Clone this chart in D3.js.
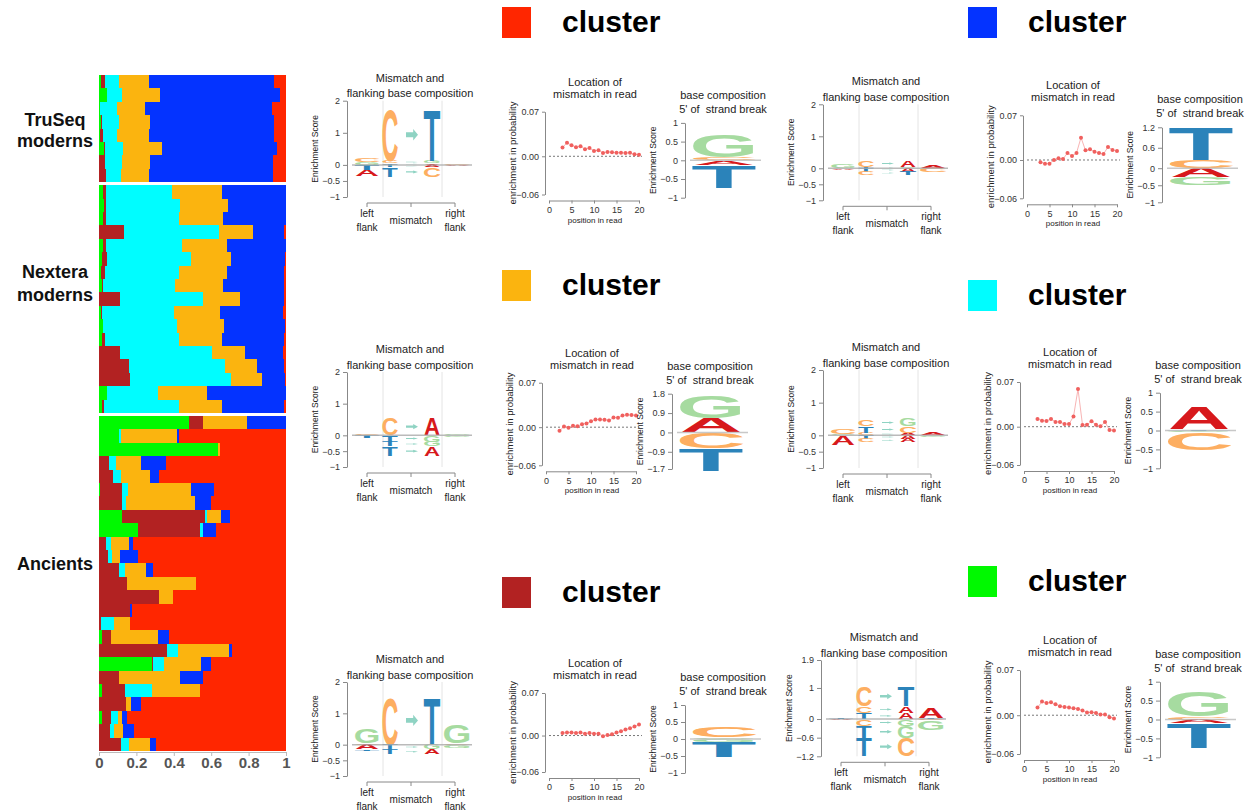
<!DOCTYPE html>
<html>
<head>
<meta charset="utf-8">
<script src="https://cdn.jsdelivr.net/npm/d3@7"></script>
<style>
body { margin: 0; background: #fff; }
text { font-family: "Liberation Sans", Arial, Helvetica, sans-serif; }
</style>
</head>
<body>
<script>
// ---------- data: admixture proportions (one value per individual) ----------
const groupNames = [['TruSeq', 'moderns'], ['Nextera', 'moderns'], ['Ancients']]
const groupSizes = [8, 17, 25]
const clusterOrder = ['green', 'brown', 'cyan', 'orange', 'blue', 'red']

const qGreen = [.010,.043,.004,.012,.007,.025,0,0,
  .021,.029,.021,0,.021,.018,.009,.014,0,.009,.023,.014,0,0,0,.041,.016,
  .479,.107,.639,0,0,.007,0,.123,.211,0,0,0,0,0,0,0,.018,0,.281,0,.018,0,.014,0,0]
const qBrown = [.020,0,0,.006,.014,.009,.034,.036,
  .018,.007,.017,.132,.018,.025,.023,.007,.111,.009,0,.020,.114,.159,.165,0,.009,
  .076,0,0,.052,.075,.115,.125,.446,.329,.036,.048,.107,.148,.322,.165,.013,.048,.363,.009,.109,.123,.143,.052,.057,.120]
const qCyan = [.077,.080,.093,.091,.076,.096,.089,.080,
  .353,.397,.390,.512,.403,.451,.397,.385,.444,.381,.394,.392,.491,.515,.543,.272,.404,
  0,.013,0,.037,.045,.034,.018,.007,.015,.027,.024,.033,0,0,0,.066,0,.061,.057,0,.140,0,.038,.022,.041]
const qOrange = [.160,.204,.150,.165,.168,.206,.151,.152,
  .265,.256,.236,.179,.245,.213,.254,.256,.198,.249,.252,.234,.177,.172,.165,.267,.229,
  .239,.299,.007,.136,.155,.336,.370,.077,0,.100,.042,.114,.369,.072,0,.089,.251,.272,.197,.324,.261,.027,.021,.052,.114]
const qBlue = [.670,.643,.680,.662,.669,.616,.656,.664,
  .343,.311,.336,.164,.313,.289,.308,.329,.234,.336,.327,.327,.202,.145,.120,.420,.333,
  .206,.007,0,.133,.047,.123,.086,.047,.068,.021,.097,.034,0,0,.014,0,.059,.014,.055,.122,0,.054,.027,.055,.029]
const qRed = [.063,.030,.073,.064,.066,.048,.070,.068,
  0,0,0,.013,0,.004,.009,.009,.013,.016,.004,.013,.016,.009,.007,0,.009,
  0,.574,.354,.642,.678,.385,.401,.300,.377,.816,.789,.712,.483,.606,.821,.832,.624,.290,.401,.445,.458,.776,.848,.814,.696]

// ---------- data: mismatch logos [from, to, height] stacked from zero ----------
const redMisLeft = [['G', .08], ['C', .12], ['T', -.15], ['A', -.2]]
const redMisPairs = [['C', 'A', .05], ['C', 'G', .08], ['C', 'T', 1.62], ['T', 'A', -.07], ['T', 'C', -.3]]
const redMisRight = [['C', .04], ['A', -.03]]

const blueMisLeft = [['G', .12], ['A', -.05]]
const blueMisPairs = [['T', 'G', .05], ['C', 'A', .2], ['T', 'A', -.1], ['C', 'T', -.1]]
const blueMisRight = [['A', .06], ['C', -.1]]

const orangeMisLeft = [['C', .03], ['T', -.08]]
const orangeMisPairs = [['C', 'A', .55], ['T', 'G', -.2], ['T', 'G', -.15], ['T', 'A', -.3]]
const orangeMisRight = [['G', .04], ['G', -.04]]

const cyanMisLeft = [['G', .05], ['C', .15], ['A', -.3]]
const cyanMisPairs = [['C', 'A', .08], ['T', 'C', .2], ['C', 'G', .22], ['T', 'A', -.1], ['C', 'A', -.1]]
const cyanMisRight = [['A', .08], ['G', -.05]]

const brownMisLeft = [['C', .05], ['G', .45], ['A', -.15], ['T', -.05]]
const brownMisPairs = [['C', 'T', 1.55], ['T', 'G', -.15], ['T', 'A', -.15]]
const brownMisRight = [['C', .05], ['G', .6], ['G', -.1]]

const greenMisLeft = [['T', .03], ['A', -.03]]
const greenMisPairs = [['T', 'A', .2], ['C', 'A', .22], ['C', 'T', .62], ['C', 'G', -.22], ['T', 'G', -.38], ['T', 'C', -.58]]
const greenMisRight = [['T', .03], ['A', .32], ['C', -.04], ['G', -.3]]

// ---------- data: location of mismatch in read ----------
const readPos = [3, 4, 5, 6, 7, 8, 9, 10, 11, 12, 13, 14, 15, 16, 17, 18, 19, 20]
const redLoc = [.0136,.0214,.0172,.0141,.0157,.011,.013,.0084,.0094,.0052,.0068,.0063,.0057,.0057,.0052,.0057,.0031,.0026]
const blueLoc = [-.0037,-.0057,-.0057,0,.0026,.0016,.011,.0063,.011,.035,.0151,.0167,.0131,.011,.0094,.0204,.0157,.0141]
const orangeLoc = [-.0058,.001,-.001,.0021,.0016,.0047,.0058,.0095,.0121,.0121,.0116,.0105,.0153,.0147,.0184,.0195,.019,.0184]
const cyanLoc = [.0122,.0095,.009,.0122,.0074,.0074,.0042,.0042,.0159,.0589,.0027,.0032,.0085,.0032,.0005,.0074,-.0053,-.0058]
const brownLoc = [.004,.005,.005,.004,.005,.003,.004,.003,.003,-.001,.001,.002,.005,.007,.01,.012,.015,.018]
const greenLoc = [.0118,.0211,.019,.0201,.017,.0139,.0129,.0118,.0108,.0098,.0072,.0041,.0046,.0036,.001,.001,-.0031,-.0051]

// ---------- data: base composition 5' of strand break ----------
const redBase = [['C', .08], ['G', .62], ['A', -.12], ['T', -.62]]
const blueBase = [['C', .24], ['T', .98], ['A', -.26], ['G', -.24]]
const orangeBase = [['A', .68], ['G', 1.06], ['C', -.72], ['T', -1.05]]
const cyanBase = [['T', .03], ['A', .6], ['G', -.04], ['C', -.47]]
const brownBase = [['G', .05], ['C', .3], ['G', -.08], ['T', -.45]]
const greenBase = [['C', .08], ['G', .65], ['A', -.1], ['T', -.66]]

// ---------- styles ----------
const clusterColor = { green: '#00f900', brown: '#b22222', cyan: '#00fdff', orange: '#fbb40f', blue: '#0433ff', red: '#ff2600' }
const letterColor = { A: '#d7191c', C: '#fdae61', G: '#a6dba0', T: '#2b83ba' }
const arrowColor = '#8fd3c3'
const inkW = { A: 72, C: 64, G: 70, T: 58 }

const svg = d3.select('body').append('svg').attr('width', 1247).attr('height', 811)

// ---------- structure plot ----------
const xq = d3.scaleLinear().domain([0, 1]).range([99, 286])
const yRow = d3.scaleLinear().domain([0, 50]).range([75, 745])
const qCols = [qGreen, qBrown, qCyan, qOrange, qBlue, qRed]
const rows = []
let start = 0
groupSizes.forEach((n, g) => {
	for (let i = 0; i < n; i++) rows.push({ idx: start + i, group: g })
	start += n
})
rows.forEach(r => {
	let cum = 0
	const y0 = yRow(r.idx) + r.group * 3
	const y1 = yRow(r.idx + 1) + r.group * 3
	clusterOrder.forEach((k, j) => {
		const v = qCols[j][r.idx]
		const x0 = cum
		cum += v
		if (v <= 0) return
		svg.append('rect')
			.attr('x', xq(x0))
			.attr('y', y0)
			.attr('width', j === 5 ? xq(1) - xq(x0) : xq(cum) - xq(x0))
			.attr('height', y1 - y0)
			.attr('fill', clusterColor[k])
			.attr('shape-rendering', 'crispEdges')
	})
})

const qAxis = svg.append('g')
	.attr('transform', 'translate(0,752)')
	.call(d3.axisBottom(xq).tickValues([0, .2, .4, .6, .8, 1]).tickFormat(d3.format('~g')).tickSize(4).tickSizeOuter(0))
qAxis.select('.domain').attr('stroke', '#bbb')
qAxis.selectAll('line').attr('stroke', '#bbb')
qAxis.selectAll('text').attr('font-size', 15).attr('font-weight', 'bold').attr('fill', '#555').attr('dy', '0.6em')

const groupLabelY = [[126, 147], [278, 301], [570]]
groupNames.forEach((lines, g) => {
	lines.forEach((s, k) => {
		svg.append('text').text(s)
			.attr('x', 55).attr('y', groupLabelY[g][k])
			.attr('text-anchor', 'middle')
			.attr('font-size', 18).attr('font-weight', 'bold').attr('fill', '#111')
	})
})

// ---------- helpers for logos ----------
function letter(g, ch, cx, w, yTop, yBot) {
	const h = yBot - yTop
	if (h < 0.3) return
	g.append('text').text(ch)
		.attr('font-size', 100).attr('font-weight', 'bold')
		.attr('text-anchor', 'middle')
		.attr('fill', letterColor[ch])
		.attr('transform', `translate(${cx},${yBot}) scale(${w / inkW[ch]},${h / 72})`)
}

function arrow(g, cx, cy, w, h) {
	const pts = [[-.5, -.22], [.1, -.22], [.1, -.5], [.5, 0], [.1, .5], [.1, .22], [-.5, .22]]
	g.append('polygon')
		.attr('points', pts.map(p => [cx + p[0] * w, cy + p[1] * h].join(',')).join(' '))
		.attr('fill', arrowColor)
}

function stack(list, fn) {
	let up = 0, down = 0
	list.forEach(d => {
		const v = d[d.length - 1]
		if (v >= 0) { fn(d, up, up + v); up += v }
		else { fn(d, down + v, down); down += v }
	})
}

function yAxisStyle(a) {
	a.select('.domain').attr('stroke', '#888')
	a.selectAll('line').attr('stroke', '#888')
	a.selectAll('text').attr('font-size', 9).attr('fill', '#333')
}

function drawMismatch(c, left, pairs, right) {
	const g = svg.append('g')
	const y = d3.scaleLinear().domain(c.dom).range([c.yB, c.yT])
	const ax = c.ax
	;[36, 95].forEach(o => g.append('line')
		.attr('x1', ax + o).attr('x2', ax + o).attr('y1', c.yT).attr('y2', c.yB)
		.attr('stroke', '#e4e4e4'))
	const a = g.append('g').attr('transform', `translate(${ax},0)`)
		.call(d3.axisLeft(y).tickValues(c.ticks).tickFormat(d3.format('~g')).tickSize(4).tickSizeOuter(0))
	yAxisStyle(a)

	const colX = [20, 43, 65, 85, 110].map(o => ax + o)
	stack(left, (d, lo, hi) => letter(g, d[0], colX[0], 24, y(hi), y(lo)))
	stack(right, (d, lo, hi) => letter(g, d[0], colX[4], 26, y(hi), y(lo)))
	stack(pairs, (d, lo, hi) => {
		letter(g, d[0], colX[1], 15, y(hi), y(lo))
		letter(g, d[1], colX[3], 16, y(hi), y(lo))
		const slot = hi - lo
		const ah = Math.min(slot * 0.3, 0.36)
		arrow(g, colX[2], y((hi + lo) / 2), 12, y(0) - y(ah))
	})
	g.append('line').attr('x1', ax + 5).attr('x2', ax + 125).attr('y1', y(0)).attr('y2', y(0))
		.attr('stroke', '#aaa').attr('stroke-width', 1.5).attr('opacity', 0.8)

	// bottom axis
	const xb = c.yB + 6
	g.append('line').attr('x1', ax + 20).attr('x2', ax + 108).attr('y1', xb).attr('y2', xb).attr('stroke', '#888')
	;[20, 64, 108].forEach(o => g.append('line').attr('x1', ax + o).attr('x2', ax + o).attr('y1', xb).attr('y2', xb + 4).attr('stroke', '#888'))
	const lab = (s, x, yy) => g.append('text').text(s).attr('x', x).attr('y', yy)
		.attr('text-anchor', 'middle').attr('font-size', 10).attr('fill', '#222')
	lab('left', ax + 20, c.yB + 20); lab('flank', ax + 20, c.yB + 34)
	lab('mismatch', ax + 64, c.yB + 27)
	lab('right', ax + 108, c.yB + 20); lab('flank', ax + 108, c.yB + 34)

	g.append('text').text('Mismatch and').attr('x', ax + 63).attr('y', c.yT - 19)
		.attr('text-anchor', 'middle').attr('font-size', 11).attr('fill', '#222')
	g.append('text').text('flanking base composition').attr('x', ax + 63).attr('y', c.yT - 3.5)
		.attr('text-anchor', 'middle').attr('font-size', 11).attr('fill', '#222')
	g.append('text').text('Enrichment Score')
		.attr('transform', `translate(${ax - 29},${(c.yT + c.yB) / 2}) rotate(-90)`)
		.attr('text-anchor', 'middle').attr('font-size', 8.5).attr('fill', '#222')
}

function drawLocation(c, vals) {
	const g = svg.append('g')
	const x = d3.scaleLinear().domain([0, 20]).range([c.ax + 4, c.ax + 94])
	const y = d3.scaleLinear().domain([-0.06, 0.07]).range([c.yB, c.yT])
	const a = g.append('g').attr('transform', `translate(${c.ax},0)`)
		.call(d3.axisLeft(y).tickValues([0.07, 0, -0.06]).tickFormat(d3.format('.2f')).tickSize(3).tickSizeOuter(0))
	yAxisStyle(a)
	const b = g.append('g').attr('transform', `translate(0,${c.yB + 6})`)
		.call(d3.axisBottom(x).tickValues([0, 5, 10, 15, 20]).tickSize(3).tickSizeOuter(0))
	yAxisStyle(b)
	g.append('line').attr('x1', x(0)).attr('x2', x(20) + 3).attr('y1', y(0)).attr('y2', y(0))
		.attr('stroke', '#555').attr('stroke-dasharray', '2,2').attr('stroke-width', 0.8)
	const pts = readPos.map((p, i) => [p, vals[i]])
	g.append('path').datum(pts)
		.attr('d', d3.line().x(d => x(d[0])).y(d => y(d[1])))
		.attr('fill', 'none').attr('stroke', '#f8b4b4').attr('stroke-width', 1)
	g.selectAll('circle').data(pts).enter().append('circle')
		.attr('cx', d => x(d[0])).attr('cy', d => y(d[1])).attr('r', 2)
		.attr('fill', '#f0605e')
	g.append('text').text('Location of').attr('x', c.ax + 50).attr('y', c.yT - 26)
		.attr('text-anchor', 'middle').attr('font-size', 11).attr('fill', '#222')
	g.append('text').text('mismatch in read').attr('x', c.ax + 50).attr('y', c.yT - 14)
		.attr('text-anchor', 'middle').attr('font-size', 11).attr('fill', '#222')
	g.append('text').text('position in read').attr('x', c.ax + 50).attr('y', c.yB + 28)
		.attr('text-anchor', 'middle').attr('font-size', 8).attr('fill', '#222')
	g.append('text').text('enrichment in probability')
		.attr('transform', `translate(${c.ax - 29},${(c.yT + c.yB) / 2}) rotate(-90)`)
		.attr('text-anchor', 'middle').attr('font-size', 9.5).attr('fill', '#222')
}

function drawBase(c, list) {
	const g = svg.append('g')
	const y = d3.scaleLinear().domain(c.dom).range([c.yB, c.yT])
	const a = g.append('g').attr('transform', `translate(${c.ax},0)`)
		.call(d3.axisLeft(y).tickValues(c.ticks).tickFormat(d3.format('~g')).tickSize(4).tickSizeOuter(0))
	yAxisStyle(a)
	stack(list, (d, lo, hi) => letter(g, d[0], c.ax + 39, 62, y(hi), y(lo)))
	g.append('line').attr('x1', c.ax + 5).attr('x2', c.ax + 76).attr('y1', y(0)).attr('y2', y(0))
		.attr('stroke', '#bbb').attr('stroke-width', 1.5).attr('opacity', 0.8)
	g.append('text').text('base composition').attr('x', c.ax + 38).attr('y', c.yT - 24)
		.attr('text-anchor', 'middle').attr('font-size', 11).attr('fill', '#222')
	g.append('text').text("5' of  strand break").attr('x', c.ax + 38).attr('y', c.yT - 10)
		.attr('text-anchor', 'middle').attr('font-size', 11).attr('fill', '#222').style('white-space', 'pre')
	g.append('text').text('Enrichment Score')
		.attr('transform', `translate(${c.ax - 29},${(c.yT + c.yB) / 2}) rotate(-90)`)
		.attr('text-anchor', 'middle').attr('font-size', 8.5).attr('fill', '#222')
}

function drawHeader(c, key) {
	svg.append('rect').attr('x', c.x).attr('y', c.y).attr('width', 29).attr('height', 31)
		.attr('fill', clusterColor[key])
	svg.append('text').text('cluster').attr('x', c.x + 60).attr('y', c.y + 25)
		.attr('font-size', 30).attr('font-weight', 'bold').attr('fill', '#000')
}

// ---------- panel layout ----------
const tk = [2, 1, 0, -0.5, -1]
const panels = [
	{ key: 'red', head: { x: 502, y: 7 },
		mis: { ax: 347, yT: 100.7, yB: 197, dom: [-1, 2], ticks: tk }, left: redMisLeft, pairs: redMisPairs, right: redMisRight,
		loc: { ax: 545, yT: 111.7, yB: 194.5 }, locVals: redLoc,
		base: { ax: 685, yT: 122.9, yB: 197.7, dom: [-1, 1], ticks: [1, .5, 0, -.5, -1] }, baseVals: redBase },
	{ key: 'blue', head: { x: 968, y: 7 },
		mis: { ax: 823, yT: 104.3, yB: 200.3, dom: [-1, 2], ticks: tk }, left: blueMisLeft, pairs: blueMisPairs, right: blueMisRight,
		loc: { ax: 1023, yT: 115.3, yB: 198.3 }, locVals: blueLoc,
		base: { ax: 1162, yT: 127.3, yB: 202.3, dom: [-1, 1.2], ticks: [1.2, .6, 0, -.5, -1] }, baseVals: blueBase },
	{ key: 'orange', head: { x: 502, y: 270 },
		mis: { ax: 347, yT: 372, yB: 467, dom: [-1, 2], ticks: tk }, left: orangeMisLeft, pairs: orangeMisPairs, right: orangeMisRight,
		loc: { ax: 542, yT: 382.7, yB: 465.3 }, locVals: orangeLoc,
		base: { ax: 672, yT: 393.7, yB: 469, dom: [-1.7, 1.8], ticks: [1.8, .9, 0, -.9, -1.7] }, baseVals: orangeBase },
	{ key: 'cyan', head: { x: 968, y: 280 },
		mis: { ax: 823, yT: 370, yB: 468, dom: [-1, 2], ticks: tk }, left: cyanMisLeft, pairs: cyanMisPairs, right: cyanMisRight,
		loc: { ax: 1020, yT: 382, yB: 465 }, locVals: cyanLoc,
		base: { ax: 1160, yT: 392.7, yB: 468.3, dom: [-1, 1], ticks: [1, .5, 0, -.5, -1] }, baseVals: cyanBase },
	{ key: 'brown', head: { x: 502, y: 577 },
		mis: { ax: 347, yT: 682, yB: 776, dom: [-1, 2], ticks: tk }, left: brownMisLeft, pairs: brownMisPairs, right: brownMisRight,
		loc: { ax: 545, yT: 693, yB: 772 }, locVals: brownLoc,
		base: { ax: 685, yT: 705, yB: 773, dom: [-1, 1], ticks: [1, .5, 0, -.5, -1] }, baseVals: brownBase },
	{ key: 'green', head: { x: 968, y: 566 },
		mis: { ax: 821, yT: 660, yB: 756.3, dom: [-1.2, 1.9], ticks: [1.9, 1, 0, -.6, -1.2] }, left: greenMisLeft, pairs: greenMisPairs, right: greenMisRight,
		loc: { ax: 1020, yT: 670, yB: 754 }, locVals: greenLoc,
		base: { ax: 1160, yT: 681.7, yB: 757.3, dom: [-1, 1], ticks: [1, .5, 0, -.5, -1] }, baseVals: greenBase }
]

panels.forEach(p => {
	drawHeader(p.head, p.key)
	drawMismatch(p.mis, p.left, p.pairs, p.right)
	drawLocation(p.loc, p.locVals)
	drawBase(p.base, p.baseVals)
})
</script>
</body>
</html>
